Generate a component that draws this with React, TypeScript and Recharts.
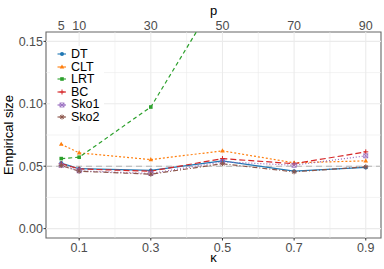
import { LineChart, Line, XAxis, YAxis, ReferenceLine, ReferenceArea } from 'recharts';

// kappa = p / n, with p shown on the top axis
const kappa = [0.05, 0.1, 0.3, 0.5, 0.7, 0.9];
const pLabels = [5, 10, 30, 50, 70, 90];
const kappaTicks = [0.1, 0.3, 0.5, 0.7, 0.9];
const sizeTicks = [0, 0.05, 0.1, 0.15];
const minorX = [0.2, 0.4, 0.6, 0.8];
const minorY = [0.025, 0.075, 0.125];

const dt = [0.0525, 0.048, 0.0466, 0.0543, 0.046, 0.049];
const clt = [0.0676, 0.0607, 0.0553, 0.0623, 0.0527, 0.0543];
const lrt = [0.0561, 0.0572, 0.0974, 0.192, 0.3, 0.45];
const bc = [0.052, 0.0478, 0.046, 0.0561, 0.052, 0.0615];
const sko1 = [0.0508, 0.0463, 0.0442, 0.0535, 0.0508, 0.0583];
const sko2 = [0.0505, 0.046, 0.0436, 0.052, 0.0455, 0.0495];

const data = kappa.map((k, i) => ({
  kappa: k,
  DT: dt[i],
  CLT: clt[i],
  LRT: lrt[i],
  BC: bc[i],
  Sko1: sko1[i],
  Sko2: sko2[i],
}));

type Shape = 'circle' | 'triangle' | 'square' | 'plus' | 'boxx' | 'star';

const series: { key: string; color: string; dash?: string; shape: Shape }[] = [
  { key: 'DT', color: '#1f77b4', shape: 'circle' },
  { key: 'CLT', color: '#ff7f0e', dash: '2 2', shape: 'triangle' },
  { key: 'LRT', color: '#2ca02c', dash: '4 3', shape: 'square' },
  { key: 'BC', color: '#d62728', dash: '6 3', shape: 'plus' },
  { key: 'Sko1', color: '#9467bd', dash: '1 2', shape: 'boxx' },
  { key: 'Sko2', color: '#8c564b', dash: '1 2 5 2', shape: 'star' },
];

const FONT = '"Liberation Sans", Arial, sans-serif';

function Marker({ cx, cy, shape, color }: { cx: number; cy: number; shape: Shape; color: string }) {
  switch (shape) {
    case 'circle':
      return <circle cx={cx} cy={cy} r={2} fill={color} />;
    case 'triangle':
      return <polygon points={`${cx},${cy - 2.5} ${cx - 2.3},${cy + 1.6} ${cx + 2.3},${cy + 1.6}`} fill={color} />;
    case 'square':
      return <rect x={cx - 1.8} y={cy - 1.8} width={3.6} height={3.6} fill={color} />;
    case 'plus':
      return (
        <path d={`M${cx - 2.5},${cy}H${cx + 2.5}M${cx},${cy - 2.5}V${cy + 2.5}`} stroke={color} strokeWidth={1} />
      );
    case 'boxx':
      return (
        <g stroke={color} strokeWidth={0.8} fill="none">
          <rect x={cx - 2} y={cy - 2} width={4} height={4} />
          <path d={`M${cx - 2},${cy - 2}L${cx + 2},${cy + 2}M${cx - 2},${cy + 2}L${cx + 2},${cy - 2}`} />
        </g>
      );
    default:
      return (
        <path
          d={`M${cx - 2.5},${cy}H${cx + 2.5}M${cx},${cy - 2.5}V${cy + 2.5}M${cx - 1.8},${cy - 1.8}L${cx + 1.8},${cy + 1.8}M${cx - 1.8},${cy + 1.8}L${cx + 1.8},${cy - 1.8}`}
          stroke={color}
          strokeWidth={1}
        />
      );
  }
}

const Legend = () => (
  <div
    style={{
      position: 'absolute',
      left: 50,
      top: 46,
      background: '#fff',
      padding: '2px 4px 2px 6px',
      fontFamily: FONT,
      fontSize: 12.5,
      color: '#000',
    }}
  >
    {series.map((s) => (
      <div key={s.key} style={{ display: 'flex', alignItems: 'center', height: 12.6 }}>
        <svg width={12} height={12} style={{ marginRight: 3 }}>
          <line x1={1.5} y1={6} x2={10} y2={6} stroke={s.color} strokeWidth={1.1} />
          <Marker cx={6} cy={6} shape={s.shape} color={s.color} />
        </svg>
        <span style={{ lineHeight: '12.6px' }}>{s.key}</span>
      </div>
    ))}
  </div>
);

export default function App() {
  const tickStyle = { fill: '#4d4d4d', fontSize: 12.5, fontFamily: FONT };
  return (
    <div style={{ position: 'absolute', left: 0, top: 0, width: 384, height: 269, background: '#fff' }}>
      <LineChart width={384} height={269} data={data} margin={{ top: 0, right: 3, bottom: 0, left: 0 }}>
        <XAxis
          dataKey="kappa"
          type="number"
          domain={[0.0075, 0.9425]}
          ticks={kappaTicks}
          allowDataOverflow
          height={31}
          tick={tickStyle}
          tickLine={{ stroke: '#333' }}
          tickSize={2.5}
          tickMargin={3}
          axisLine={false}
          tickFormatter={(v: number) => String(v)}
          label={{ value: 'κ', position: 'insideBottom', offset: 7, fill: '#000', fontSize: 13, fontFamily: FONT }}
        />
        <XAxis
          xAxisId="top"
          dataKey="kappa"
          type="number"
          orientation="top"
          domain={[0.0075, 0.9425]}
          ticks={kappa}
          allowDataOverflow
          height={32}
          tick={tickStyle}
          tickLine={false}
          tickSize={2}
          tickMargin={0}
          axisLine={false}
          tickFormatter={(v: number) => String(pLabels[kappa.indexOf(v)] ?? '')}
          label={{ value: 'p', position: 'insideTop', offset: 6, fill: '#000', fontSize: 13, fontFamily: FONT }}
        />
        <YAxis
          type="number"
          domain={[-0.0075, 0.1575]}
          ticks={sizeTicks}
          allowDataOverflow
          width={46}
          tick={tickStyle}
          tickLine={{ stroke: '#333' }}
          tickSize={2.5}
          tickMargin={0.5}
          axisLine={false}
          tickFormatter={(v: number) => v.toFixed(2)}
          label={{
            value: 'Empirical size',
            angle: -90,
            position: 'insideLeft',
            offset: 8,
            fill: '#000',
            fontSize: 13,
            fontFamily: FONT,
            style: { textAnchor: 'middle' },
          }}
        />
        {minorY.map((v) => (
          <ReferenceLine key={'my' + v} y={v} stroke="#ebebeb" strokeWidth={0.6} />
        ))}
        {minorX.map((v) => (
          <ReferenceLine key={'mx' + v} x={v} stroke="#ebebeb" strokeWidth={0.6} />
        ))}
        {sizeTicks.map((v) => (
          <ReferenceLine key={'y' + v} y={v} stroke="#ebebeb" strokeWidth={1.1} />
        ))}
        {kappaTicks.map((v) => (
          <ReferenceLine key={'x' + v} x={v} stroke="#ebebeb" strokeWidth={1.1} />
        ))}
        <ReferenceLine y={0.05} stroke="#b3b3b3" strokeWidth={1.1} strokeDasharray="6 4" />
        {series.map((s) => (
          <Line
            key={s.key}
            dataKey={s.key}
            stroke={s.color}
            strokeWidth={1.2}
            strokeDasharray={s.dash}
            isAnimationActive={false}
            dot={(p: any) => (
              <Marker key={s.key + p.index} cx={p.cx} cy={p.cy} shape={s.shape} color={s.color} />
            )}
            activeDot={false}
          />
        ))}
        <ReferenceArea
          x1={0.0075}
          x2={0.9425}
          y1={-0.0075}
          y2={0.1575}
          fill="none"
          fillOpacity={0}
          stroke="#666"
          strokeWidth={1.1}
        />
      </LineChart>
      <Legend />
    </div>
  );
}
